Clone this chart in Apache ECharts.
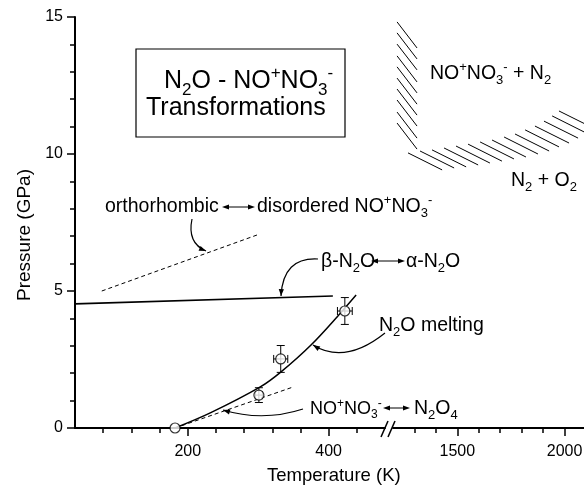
<!DOCTYPE html>
<html><head><meta charset="utf-8">
<script src="https://cdn.jsdelivr.net/npm/echarts@6/dist/echarts.min.js"></script>
<style>html,body{margin:0;padding:0;background:#fff}#c{width:584px;height:485px}</style>
</head><body><div id="c"></div>
<script>
const FONT = '"Liberation Sans", Arial, sans-serif';
const K = '#000';

// ---- data ----
const yRange = [0, 15];
const xRangeLow = [40, 480];
const xRangeHigh = [1200, 2100];
const xLabelsLow = [200, 400];
const xMinorLow = [80, 120, 160, 240, 280, 320, 360, 440];
const xLabelsHigh = [1500, 2000];
const xMinorHigh = [1300, 1400, 1600, 1700, 1800, 1900];

const meltingCurve = [[182,0],[232,0.55],[303,1.5],[332,2.04],[375,3.03],[417,4.2],[439,4.85]];
const meltStart = [[182,0]];
const meltPointsErr = [[301,1.2,5,0.27],[332,2.52,10,0.49],[423,4.27,10.5,0.49]]; // T, P, dT, dP
const betaAlphaLine = [[40,4.53],[406,4.82]];
const orthoDisorderLine = [[78,5.0],[299,7.05]];
const nitrosoniumLine = [[182,0],[350,1.5]];

const hatchVertical = [
 [1219,14.82,1312,13.87],[1219,14.42,1312,13.47],[1219,14.01,1312,13.07],
 [1219,13.58,1312,12.63],[1219,13.18,1312,12.23],[1219,12.77,1312,11.82],
 [1219,12.37,1312,11.42],[1219,11.97,1312,11.02],[1219,11.53,1312,10.58],
 [1219,11.13,1312,10.18]
];
const hatchHorizontal = [
 [1270,10.04,1429,9.42],[1326,10.11,1485,9.49],[1382,10.15,1541,9.53],
 [1438,10.22,1597,9.60],[1494,10.29,1652,9.67],[1550,10.36,1708,9.74],
 [1606,10.44,1764,9.82],[1662,10.51,1820,9.89],[1718,10.62,1876,10.00],
 [1769,10.73,1928,10.11],[1816,10.88,1974,10.26],[1862,11.02,2021,10.40],
 [1904,11.20,2063,10.58],[1942,11.39,2100,10.77],[1974,11.57,2100,11.08]
];

// ---- helpers ----
const tickStyle = {color: K, width: 1.5};
function xAxisPair(grid, range, minor, major) {
  return [
    {gridIndex: grid, type: 'value', min: range[0], max: range[1], position: 'bottom',
     axisLine: {show: true, onZero: false, lineStyle: {color: K, width: 2}},
     axisTick: {show: true, customValues: minor, length: 5, lineStyle: tickStyle},
     axisLabel: {show: true, customValues: major, margin: 16, color: K, fontSize: 16, fontFamily: FONT,
                 formatter: function (v) { return String(v); }},
     splitLine: {show: false}},
    {gridIndex: grid, type: 'value', min: range[0], max: range[1], position: 'bottom',
     axisLine: {show: false, onZero: false},
     axisTick: {show: true, customValues: major, length: 8, lineStyle: tickStyle},
     axisLabel: {show: false}, splitLine: {show: false}}
  ];
}
function richLabel(x, baseline, markup, F) {
  const L = Math.round(F * 1.2);
  const s = Math.round(F * 0.67);
  const base = {fontFamily: FONT, fill: K, color: K, lineHeight: L};
  return {type: 'text', x: x, y: baseline - L / 2 - 0.3465 * F, z: 100,
    style: {text: markup, align: 'left', textAlign: 'left', verticalAlign: 'top', textVerticalAlign: 'top',
      fill: K, fontFamily: FONT, fontSize: F,
      rich: {
        m: Object.assign({fontSize: F}, base),
        b: Object.assign({fontSize: s, padding: [0.693 * F, 0, 0, 0]}, base),
        p: Object.assign({fontSize: s, padding: [0, 0, 0.607 * F, 0]}, base)
      }}};
}
function dblArrow(x1, x2, y) {
  return [
    {type: 'line', z: 100, shape: {x1: x1 + 4, y1: y, x2: x2 - 4, y2: y}, style: {stroke: K, lineWidth: 1}},
    {type: 'polygon', z: 100, shape: {points: [[x1, y], [x1 + 7, y - 2.5], [x1 + 7, y + 2.5]]}, style: {fill: K}},
    {type: 'polygon', z: 100, shape: {points: [[x2, y], [x2 - 7, y - 2.5], [x2 - 7, y + 2.5]]}, style: {fill: K}}
  ];
}
function curveArrow(x1, y1, cx, cy, x2, y2) {
  const dx = x2 - cx, dy = y2 - cy, len = Math.hypot(dx, dy), ux = dx / len, uy = dy / len;
  const bx = x2 - ux * 7, by = y2 - uy * 7, nx = -uy * 2.6, ny = ux * 2.6;
  return [
    {type: 'bezierCurve', z: 100, shape: {x1: x1, y1: y1, x2: x2, y2: y2, cpx1: cx, cpy1: cy},
     style: {stroke: K, lineWidth: 1.2, fill: 'none'}},
    {type: 'polygon', z: 100, shape: {points: [[x2, y2], [bx + nx, by + ny], [bx - nx, by - ny]]}, style: {fill: K}}
  ];
}
function toSegs(arr) { return arr.map(a => ({coords: [[a[0], a[1]], [a[2], a[3]]]})); }

const graphics = [
  {type: 'rect', z: 90, shape: {x: 136, y: 49, width: 209, height: 88}, style: {fill: '#fff', stroke: K, lineWidth: 1.2}},
  richLabel(164, 90, '{m|N}{b|2}{m|O - NO}{p|+}{m|NO}{b|3}{p|-}', 25),
  richLabel(146, 117, '{m|Transformations}', 25),
  richLabel(430, 80, '{m|NO}{p|+}{m|NO}{b|3}{p|-}{m| + N}{b|2}', 19.5),
  richLabel(511, 187, '{m|N}{b|2}{m| + O}{b|2}', 19.5),
  richLabel(105, 213, '{m|orthorhombic}', 19.5),
  richLabel(257, 213, '{m|disordered NO}{p|+}{m|NO}{b|3}{p|-}', 19.5),
  richLabel(321, 268, '{m|β-N}{b|2}{m|O}', 19.5),
  richLabel(406, 268, '{m|α-N}{b|2}{m|O}', 19.5),
  richLabel(379, 332, '{m|N}{b|2}{m|O melting}', 19.5),
  richLabel(310, 415, '{m|NO}{p|+}{m|NO}{b|3}{p|-}', 18),
  richLabel(414, 415, '{m|N}{b|2}{m|O}{b|4}', 19.5),
  richLabel(267, 482, '{m|Temperature (K)}', 18.5),
  {type: 'text', x: 25, y: 235, rotation: Math.PI / 2, z: 100,
   style: {text: 'Pressure (GPa)', align: 'center', textAlign: 'center', verticalAlign: 'middle', textVerticalAlign: 'middle',
     fill: K, fontFamily: FONT, fontSize: 19}},
  {type: 'line', z: 100, shape: {x1: 381, y1: 437, x2: 388, y2: 421}, style: {stroke: K, lineWidth: 1.5}},
  {type: 'line', z: 100, shape: {x1: 388, y1: 437, x2: 395, y2: 421}, style: {stroke: K, lineWidth: 1.5}}
].concat(
  dblArrow(222, 255, 207), dblArrow(371, 405, 261), dblArrow(383, 410, 408),
  curveArrow(192, 219, 187, 243, 206, 251),
  curveArrow(318, 259, 283, 257, 281, 296),
  curveArrow(385, 333, 345, 365, 313, 345),
  curveArrow(303, 409, 263, 422, 223, 410)
);

const chart = echarts.init(document.getElementById('c'));
chart.setOption({
  animation: false,
  backgroundColor: '#fff',
  grid: [
    {left: 75, top: 17, width: 310, height: 411, outerBoundsMode: 'none'},
    {left: 393, top: 17, width: 193, height: 411, outerBoundsMode: 'none'}
  ],
  xAxis: xAxisPair(0, xRangeLow, xMinorLow, xLabelsLow).concat(xAxisPair(1, xRangeHigh, xMinorHigh, xLabelsHigh)),
  yAxis: [
    {gridIndex: 0, type: 'value', min: yRange[0], max: yRange[1], interval: 5, position: 'left',
     axisLine: {show: true, onZero: false, lineStyle: {color: K, width: 2}},
     axisTick: {show: true, length: 8, lineStyle: tickStyle},
     minorTick: {show: true, splitNumber: 5, length: 5, lineStyle: tickStyle},
     axisLabel: {margin: 12, fontSize: 16, color: K, fontFamily: FONT},
     splitLine: {show: false}, minorSplitLine: {show: false}},
    {gridIndex: 1, type: 'value', min: yRange[0], max: yRange[1], show: false}
  ],
  series: [
    {type: 'line', xAxisIndex: 0, yAxisIndex: 0, data: meltingCurve, smooth: 0.35, symbol: 'none',
     lineStyle: {color: K, width: 1.5}, z: 3},
    {type: 'line', xAxisIndex: 0, yAxisIndex: 0, data: betaAlphaLine, symbol: 'none',
     lineStyle: {color: K, width: 1.6}, z: 3},
    {type: 'line', xAxisIndex: 0, yAxisIndex: 0, data: orthoDisorderLine, symbol: 'none',
     lineStyle: {color: K, width: 1, type: [4, 3]}, z: 3},
    {type: 'line', xAxisIndex: 0, yAxisIndex: 0, data: nitrosoniumLine, symbol: 'none',
     lineStyle: {color: K, width: 1, type: [4, 3]}, z: 2},
    {type: 'custom', xAxisIndex: 0, yAxisIndex: 0, data: meltPointsErr, z: 4,
     renderItem: function (params, api) {
       const T = api.value(0), P = api.value(1), dT = api.value(2), dP = api.value(3);
       const top = api.coord([T, P + dP]), bot = api.coord([T, P - dP]);
       const l = api.coord([T - dT, P]), r = api.coord([T + dT, P]);
       const st = {stroke: K, lineWidth: 1};
       const cw = 4, ch = 4;
       return {type: 'group', children: [
         {type: 'line', shape: {x1: top[0], y1: top[1], x2: bot[0], y2: bot[1]}, style: st},
         {type: 'line', shape: {x1: top[0] - cw, y1: top[1], x2: top[0] + cw, y2: top[1]}, style: st},
         {type: 'line', shape: {x1: bot[0] - cw, y1: bot[1], x2: bot[0] + cw, y2: bot[1]}, style: st},
         {type: 'line', shape: {x1: l[0], y1: l[1], x2: r[0], y2: r[1]}, style: st},
         {type: 'line', shape: {x1: l[0], y1: l[1] - ch, x2: l[0], y2: l[1] + ch}, style: st},
         {type: 'line', shape: {x1: r[0], y1: r[1] - ch, x2: r[0], y2: r[1] + ch}, style: st}
       ]};
     }},
    {type: 'scatter', xAxisIndex: 0, yAxisIndex: 0, z: 5, clip: false,
     data: meltStart.concat(meltPointsErr.map(p => [p[0], p[1]])),
     symbol: 'circle', symbolSize: 10,
     itemStyle: {color: '#fff', borderColor: K, borderWidth: 1.2}},
    {type: 'lines', coordinateSystem: 'cartesian2d', xAxisIndex: 2, yAxisIndex: 1, z: 3,
     data: toSegs(hatchVertical).concat(toSegs(hatchHorizontal)),
     lineStyle: {color: K, width: 1, opacity: 1}, symbol: 'none'}
  ],
  graphic: graphics
});
</script></body></html>
